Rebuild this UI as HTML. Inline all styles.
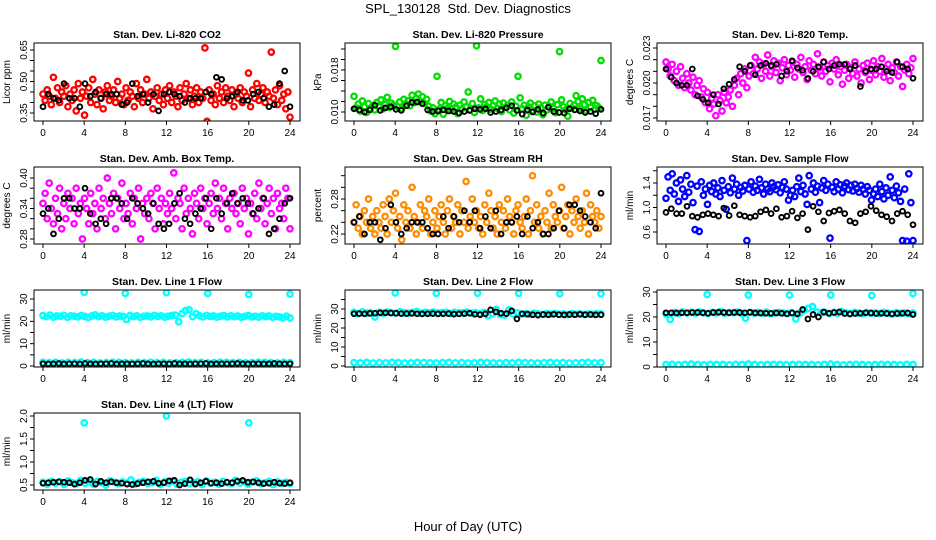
<!DOCTYPE html>
<html><head><meta charset="utf-8"><title>SPL_130128 Std. Dev. Diagnostics</title>
<style>
html,body{margin:0;padding:0;background:#fff;}
svg{display:block;font-family:"Liberation Sans",Arial,sans-serif;}
</style></head>
<body>
<svg id="chart" width="936" height="540" viewBox="0 0 936 540">
<rect x="0" y="0" width="936" height="540" fill="#fff"/>
<text x="468" y="13" text-anchor="middle" font-size="13">SPL_130128&#160; Std. Dev. Diagnostics</text>
<text x="468" y="531" text-anchor="middle" font-size="13">Hour of Day (UTC)</text>
</svg>
<script>
// ---- data ----
const xTicks = [0,4,8,12,16,20,24];

const co2Main = [0.44,0.41,0.46,0.43,0.39,0.52,0.42,0.47,0.40,0.45,0.43,0.48,0.38,0.44,0.41,0.46,0.36,0.49,0.42,0.45,0.34,0.43,0.47,0.40,0.51,0.44,0.39,0.46,0.42,0.37,0.45,0.48,0.41,0.43,0.46,0.40,0.50,0.42,0.44,0.39,0.47,0.41,0.45,0.43,0.38,0.49,0.42,0.46,0.40,0.44,0.51,0.42,0.45,0.37,0.43,0.47,0.41,0.44,0.39,0.46,0.42,0.48,0.40,0.45,0.43,0.38,0.47,0.41,0.44,0.49,0.42,0.46,0.39,0.43,0.47,0.40,0.45,0.42,0.66,0.31,0.46,0.41,0.44,0.39,0.48,0.42,0.45,0.40,0.47,0.43,0.41,0.46,0.38,0.44,0.42,0.47,0.40,0.45,0.43,0.54,0.38,0.46,0.42,0.49,0.41,0.44,0.47,0.40,0.45,0.43,0.64,0.42,0.46,0.39,0.48,0.41,0.44,0.37,0.45,0.33];
const co2Black = [0.38,0.44,0.42,0.41,0.49,0.42,0.42,0.38,0.49,0.43,0.45,0.42,0.44,0.44,0.44,0.39,0.40,0.49,0.43,0.44,0.40,0.44,0.36,0.44,0.45,0.44,0.43,0.40,0.42,0.42,0.42,0.45,0.44,0.52,0.51,0.42,0.43,0.45,0.41,0.41,0.44,0.45,0.42,0.38,0.39,0.49,0.55,0.38];

const presMain = [0.0130,0.0108,0.0115,0.0102,0.0121,0.0110,0.0099,0.0116,0.0107,0.0112,0.0104,0.0118,0.0111,0.0123,0.0106,0.0114,0.0128,0.0109,0.0117,0.0113,0.0225,0.0110,0.0119,0.0106,0.0124,0.0115,0.0121,0.0112,0.0132,0.0118,0.0126,0.0134,0.0120,0.0129,0.0116,0.0124,0.0111,0.0102,0.0108,0.0097,0.0168,0.0105,0.0118,0.0096,0.0112,0.0107,0.0120,0.0103,0.0115,0.0109,0.0097,0.0113,0.0106,0.0119,0.0110,0.0138,0.0104,0.0116,0.0099,0.0226,0.0108,0.0125,0.0103,0.0114,0.0110,0.0118,0.0105,0.0112,0.0121,0.0107,0.0115,0.0101,0.0117,0.0109,0.0113,0.0104,0.0119,0.0098,0.0111,0.0168,0.0127,0.0106,0.0113,0.0094,0.0110,0.0117,0.0103,0.0112,0.0100,0.0115,0.0108,0.0095,0.0113,0.0104,0.0111,0.0119,0.0107,0.0099,0.0114,0.0215,0.0123,0.0110,0.0104,0.0092,0.0116,0.0108,0.0113,0.0131,0.0120,0.0106,0.0125,0.0114,0.0102,0.0118,0.0109,0.0122,0.0105,0.0112,0.0108,0.0198];
const presBlack = [0.0106,0.0104,0.0100,0.0104,0.0113,0.0103,0.0108,0.0110,0.0105,0.0103,0.0112,0.0118,0.0119,0.0116,0.0104,0.0101,0.0102,0.0104,0.0102,0.0101,0.0098,0.0101,0.0103,0.0106,0.0105,0.0106,0.0099,0.0101,0.0104,0.0108,0.0112,0.0103,0.0096,0.0104,0.0100,0.0105,0.0098,0.0109,0.0101,0.0099,0.0098,0.0106,0.0104,0.0102,0.0099,0.0101,0.0097,0.0105];

const tempMain = [0.0218,0.0212,0.0206,0.0216,0.0202,0.0210,0.0198,0.0214,0.0204,0.0196,0.0208,0.0200,0.0194,0.0205,0.0190,0.0198,0.0202,0.0188,0.0195,0.0183,0.0192,0.0178,0.0187,0.0182,0.0172,0.0190,0.0185,0.0176,0.0192,0.0183,0.0188,0.0194,0.0180,0.0198,0.0204,0.0190,0.0208,0.0200,0.0212,0.0196,0.0206,0.0215,0.0208,0.0222,0.0212,0.0218,0.0204,0.0216,0.0210,0.0224,0.0206,0.0214,0.0219,0.0209,0.0217,0.0202,0.0213,0.0220,0.0207,0.0215,0.0211,0.0218,0.0205,0.0216,0.0212,0.0222,0.0209,0.0214,0.0203,0.0219,0.0211,0.0216,0.0208,0.0225,0.0213,0.0206,0.0218,0.0210,0.0215,0.0201,0.0217,0.0212,0.0220,0.0207,0.0214,0.0199,0.0211,0.0216,0.0204,0.0213,0.0208,0.0218,0.0206,0.0212,0.0200,0.0215,0.0209,0.0217,0.0203,0.0211,0.0219,0.0207,0.0214,0.0210,0.0221,0.0205,0.0212,0.0216,0.0202,0.0213,0.0209,0.0218,0.0206,0.0214,0.0197,0.0211,0.0216,0.0208,0.0213,0.0221];
const tempBlack = [0.0212,0.0205,0.0200,0.0198,0.0198,0.0212,0.0189,0.0186,0.0183,0.0190,0.0182,0.0195,0.0199,0.0203,0.0214,0.0210,0.0215,0.0207,0.0215,0.0217,0.0215,0.0216,0.0206,0.0210,0.0219,0.0213,0.0211,0.0204,0.0210,0.0214,0.0218,0.0212,0.0215,0.0216,0.0216,0.0212,0.0215,0.0197,0.0210,0.0212,0.0212,0.0214,0.0210,0.0209,0.0218,0.0214,0.0212,0.0204];

const boxMain = [0.35,0.37,0.32,0.39,0.34,0.31,0.36,0.33,0.38,0.30,0.35,0.32,0.37,0.34,0.36,0.31,0.38,0.33,0.35,0.28,0.36,0.34,0.31,0.37,0.33,0.35,0.30,0.38,0.34,0.36,0.32,0.40,0.35,0.33,0.37,0.30,0.36,0.34,0.39,0.32,0.35,0.33,0.37,0.31,0.36,0.34,0.38,0.28,0.35,0.33,0.36,0.32,0.37,0.35,0.30,0.38,0.34,0.36,0.31,0.35,0.33,0.37,0.34,0.41,0.32,0.36,0.35,0.30,0.38,0.33,0.36,0.34,0.29,0.37,0.35,0.32,0.38,0.34,0.36,0.31,0.35,0.37,0.33,0.39,0.34,0.36,0.32,0.38,0.35,0.30,0.36,0.34,0.37,0.33,0.35,0.31,0.38,0.34,0.36,0.29,0.35,0.33,0.37,0.32,0.39,0.34,0.36,0.31,0.35,0.38,0.33,0.36,0.30,0.37,0.34,0.35,0.32,0.38,0.36,0.30];
const boxBlack = [0.33,0.34,0.29,0.32,0.36,0.36,0.34,0.34,0.38,0.33,0.31,0.32,0.31,0.36,0.36,0.35,0.32,0.36,0.35,0.34,0.33,0.35,0.31,0.30,0.31,0.35,0.37,0.32,0.31,0.33,0.34,0.36,0.30,0.36,0.33,0.35,0.37,0.35,0.36,0.35,0.33,0.34,0.36,0.29,0.30,0.32,0.35,0.36];

const rhMain = [0.24,0.27,0.23,0.25,0.22,0.26,0.24,0.28,0.23,0.25,0.22,0.26,0.24,0.23,0.27,0.25,0.22,0.28,0.24,0.26,0.29,0.23,0.25,0.21,0.27,0.24,0.26,0.23,0.30,0.25,0.22,0.24,0.27,0.23,0.26,0.25,0.28,0.22,0.24,0.26,0.23,0.25,0.27,0.24,0.22,0.26,0.28,0.23,0.25,0.24,0.27,0.22,0.26,0.24,0.31,0.23,0.25,0.28,0.24,0.26,0.23,0.25,0.22,0.27,0.24,0.29,0.26,0.23,0.25,0.22,0.27,0.24,0.26,0.23,0.28,0.25,0.24,0.22,0.26,0.27,0.24,0.23,0.25,0.28,0.22,0.26,0.32,0.24,0.27,0.23,0.25,0.22,0.26,0.24,0.29,0.23,0.27,0.25,0.24,0.26,0.30,0.23,0.25,0.27,0.22,0.26,0.24,0.28,0.25,0.23,0.26,0.24,0.29,0.22,0.27,0.25,0.24,0.26,0.23,0.25];
const rhBlack = [0.24,0.25,0.22,0.24,0.24,0.21,0.23,0.27,0.24,0.22,0.23,0.24,0.24,0.24,0.23,0.22,0.22,0.25,0.23,0.25,0.24,0.26,0.24,0.26,0.23,0.25,0.23,0.26,0.22,0.24,0.24,0.25,0.22,0.25,0.23,0.24,0.22,0.22,0.23,0.26,0.23,0.27,0.27,0.26,0.25,0.24,0.23,0.29];

const flowMain = [1.15,1.50,1.28,1.55,1.22,1.40,1.10,1.45,1.30,1.18,1.52,1.25,1.38,1.08,0.64,1.35,0.61,1.42,1.20,1.30,1.05,1.36,1.26,1.40,1.22,1.32,1.18,1.44,1.28,0.97,1.34,1.24,1.48,1.30,1.38,1.20,1.33,1.27,1.36,0.46,1.30,1.42,1.25,1.35,1.28,1.46,1.32,1.22,1.38,1.30,1.26,1.40,1.34,1.29,1.37,1.24,1.33,1.42,1.30,1.12,1.20,1.28,1.18,1.34,1.48,1.26,1.36,1.22,1.05,1.52,1.30,1.40,1.25,1.35,1.08,1.32,1.44,1.28,1.38,0.50,1.33,1.26,1.42,1.30,1.37,1.24,1.35,1.40,1.29,1.36,1.27,1.38,1.31,1.25,1.36,1.30,1.22,1.34,1.28,1.12,1.22,1.30,1.18,1.38,1.26,1.14,1.32,1.20,1.50,1.28,1.16,1.35,1.24,1.10,0.46,1.30,0.45,1.55,1.08,0.46];
const flowBlack = [0.92,0.98,0.90,0.90,1.02,0.86,0.84,0.88,0.90,0.88,0.86,0.99,0.87,1.03,0.88,0.86,0.84,0.86,0.93,0.96,0.90,0.98,0.84,0.86,0.94,0.83,0.90,0.64,1.02,0.93,0.78,0.91,0.94,0.96,0.90,0.78,0.75,0.90,0.93,1.02,0.95,0.88,0.85,0.78,0.90,0.94,0.88,0.72];

const line1Main = [22.6,22.1,22.8,21.9,22.4,22.2,22.7,21.8,22.5,22.3,22.0,22.6,22.2,21.7,22.4,22.9,22.1,22.5,21.9,22.3,22.7,22.0,22.4,22.2,20.8,22.6,22.1,22.5,21.8,22.3,22.4,22.0,22.7,22.2,22.5,21.9,22.3,22.6,22.8,19.8,23.5,24.8,25.2,22.1,23.4,22.5,22.0,22.7,22.2,22.4,21.9,22.3,22.6,22.0,22.5,22.1,22.4,21.8,22.2,22.6,22.0,22.3,21.9,22.5,22.1,22.4,21.8,22.2,22.0,21.6,22.3,21.5];
const line1Low = [1.6,1.5,1.7,1.4,1.6,1.5,1.8,1.5,1.6,1.4,1.5,1.7,1.6,1.5,1.4,1.6,1.5,1.7,1.5,1.6,1.4,1.5,1.6,1.8,1.5,1.6,1.4,1.5,1.7,1.6,1.5,1.6,1.4,1.5,1.7,1.6,1.5,1.4,1.6,1.5];
const line1Black = [1.0,0.9,1.0,1.1,0.9,1.0,1.0,0.9,1.1,1.0,0.9,1.0,1.0,1.1,0.9,1.0,1.0,0.9,1.0,1.1,1.0,0.9,1.0,1.0,0.9,1.1,1.0,1.0,0.9,1.0,1.0,1.1,0.9,1.0,1.0,0.9,1.0,1.1,1.0,0.9,1.0,1.0,0.9,1.0,1.1,1.0,0.9,1.0];
const line1Spike = [33.0,32.5,32.8,32.5,32.0,32.2];

const line2Main = [28.2,27.6,28.5,27.9,28.1,25.8,28.3,27.7,28.4,28.0,27.8,28.6,28.1,27.9,28.3,28.7,27.8,28.2,28.0,28.4,27.9,28.1,28.3,27.7,28.2,27.9,28.0,28.4,27.8,28.1,27.6,28.2,26.5,27.5,29.8,27.0,26.8,29.5,27.4,28.0,27.3,27.6,27.2,27.8,27.4,27.1,27.6,27.3,27.7,27.2,27.5,27.0,27.6,27.3,27.4,27.1,27.5,27.2,27.6,27.3];
const line2Low = [1.8,1.7,1.9,1.6,1.8,1.7,1.9,1.8,1.6,1.7,1.9,1.8,1.7,1.6,1.8,1.9,1.7,1.8,1.6,1.7,1.9,1.8,1.7,1.6,1.8,1.7,1.9,1.8,1.7,1.6,1.8,1.9,1.7,1.8,1.6,1.7,1.8,1.9,1.7,1.8];
const line2Black = [27.5,27.6,27.5,27.7,27.8,28.0,28.0,27.9,27.8,27.6,27.6,27.7,27.5,27.4,27.5,27.6,27.4,27.5,27.6,27.3,27.4,27.6,27.8,27.2,27.0,27.4,29.5,28.5,27.8,27.6,29.0,24.8,27.5,27.3,27.0,26.8,27.1,27.0,27.2,27.0,26.9,27.1,27.0,27.2,27.0,27.1,26.9,27.0];
const line2Spike = [38.5,38.2,38.3,38.2,38.0,38.0];

const line3Main = [21.2,19.0,21.8,21.4,22.0,21.6,21.9,21.5,22.1,21.7,21.4,21.9,21.6,22.2,21.5,21.8,21.7,22.0,21.4,19.5,21.9,21.6,21.8,21.5,22.0,21.3,21.7,21.9,21.6,21.4,21.8,19.2,21.5,22.8,23.5,24.2,22.0,21.6,21.9,21.4,21.8,21.5,22.2,21.7,21.4,21.9,21.6,21.3,21.8,21.5,21.7,21.4,21.9,21.6,21.2,21.8,21.5,21.7,21.3,21.6];
const line3Low = [1.0,1.1,0.9,1.0,1.2,1.0,0.9,1.1,1.0,1.0,0.9,1.1,1.0,1.2,1.0,0.9,1.0,1.1,1.0,0.9,1.0,1.1,1.0,1.0,0.9,1.1,1.2,1.0,0.9,1.0,1.1,1.0,0.9,1.0,1.1,1.0,1.0,0.9,1.1,1.0];
const line3Black = [21.7,21.7,21.6,21.7,21.7,21.8,21.8,21.7,21.5,21.8,21.9,21.8,21.7,21.8,21.8,21.7,21.9,21.6,21.6,21.5,21.5,21.6,21.5,21.3,21.6,21.3,23.0,19.2,21.0,20.0,22.0,21.5,21.8,22.0,21.4,21.2,21.4,21.5,21.7,21.6,21.4,21.5,21.4,21.3,21.4,21.5,21.6,21.0];
const line3Spike = [29.0,28.8,28.8,28.8,28.6,29.4];

const line4Main = [0.56,0.52,0.58,0.54,0.57,0.51,0.59,0.55,0.53,0.60,0.54,0.57,0.52,0.58,0.55,0.50,0.59,0.56,0.53,0.57,0.54,0.61,0.52,0.56,0.58,0.53,0.55,0.60,0.51,0.57,0.54,0.59,0.52,0.56,0.58,0.53,0.55,0.57,0.51,0.59,0.54,0.56,0.52,0.58,0.55,0.53,0.60,0.54,0.57,0.52,0.56,0.59,0.53,0.55,0.58,0.51,0.57,0.54,0.56,0.53];
const line4Black = [0.54,0.55,0.56,0.57,0.56,0.55,0.52,0.55,0.60,0.62,0.52,0.58,0.55,0.57,0.55,0.54,0.52,0.51,0.53,0.55,0.57,0.58,0.54,0.55,0.59,0.60,0.50,0.53,0.61,0.52,0.55,0.58,0.54,0.55,0.53,0.56,0.55,0.58,0.60,0.56,0.57,0.55,0.53,0.54,0.56,0.54,0.53,0.55];
const spikeHours = [4,8,12,16,20,24];
const line4SpikeHours = [4,12,20];
const line4Spike = [1.85,2.0,1.85];

// tick arrays
const co2Ticks = [0.35,0.40,0.45,0.50,0.55,0.60,0.65];
const co2Labels = ["0.35","","","0.50","","","0.65"];
const presTicks = [0.010,0.012,0.014,0.016,0.018,0.020,0.022];
const presLabels = ["0.010","","","","0.018","",""];
const tempTicks = [0.017,0.018,0.019,0.020,0.021,0.022,0.023];
const tempLabels = ["0.017","","","0.020","","","0.023"];
const boxTicks = [0.28,0.30,0.32,0.34,0.36,0.38,0.40];
const boxLabels = ["0.28","","","0.34","","","0.40"];
const rhTicks = [0.22,0.24,0.26,0.28,0.30,0.32];
const rhLabels = ["0.22","","","0.28","",""];
const flowTicks = [0.6,0.8,1.0,1.2,1.4,1.6];
const flowLabels = ["0.6","","1.0","","1.4",""];
const l1Ticks = [0,5,10,15,20,25,30];
const l1Labels = ["0","","10","","20","","30"];
const l2Ticks = [0,5,10,15,20,25,30,35];
const l2Labels = ["0","","10","","20","","30",""];
const l3Ticks = [0,5,10,15,20,25,30];
const l3Labels = ["0","","10","","20","","30"];
const l4Ticks = [0.5,0.75,1.0,1.25,1.5,1.75,2.0];
const l4Labels = ["0.5","","1.0","","1.5","","2.0"];

// ---- layout ----
const NS = "http://www.w3.org/2000/svg";
const svg = document.getElementById('chart');
const colLeft = [34, 345, 657];
const rowTop = [43, 167, 290, 413];
const rowBot = [121, 244, 367, 490];
const BOXW = 266;

function mk(tag, attrs, parent) {
  const e = document.createElementNS(NS, tag);
  for (const k in attrs) e.setAttribute(k, attrs[k]);
  (parent || svg).appendChild(e);
  return e;
}
function evenHours(n) { const h = []; for (let i = 0; i < n; i++) h.push(i * 24 / (n - 1)); return h; }

const panels = [
  {id:'co2', title:'Stan. Dev. Li-820 CO2', ylab:'Licor ppm', c:0, r:0, v0:0.35, p0:113, v1:0.65, p1:50, ticks:co2Ticks, labels:co2Labels,
    series:[{vals:co2Main, color:'#ff0000', name:'co2-main'},{vals:co2Black, color:'#000', name:'co2-black'}]},
  {id:'pressure', title:'Stan. Dev. Li-820 Pressure', ylab:'kPa', c:1, r:0, v0:0.010, p0:112, v1:0.018, p1:70, ticks:presTicks, labels:presLabels,
    series:[{vals:presMain, color:'#00dd00', name:'pressure-main'},{vals:presBlack, color:'#000', name:'pressure-black'}]},
  {id:'temp', title:'Stan. Dev. Li-820 Temp.', ylab:'degrees C', c:2, r:0, v0:0.017, p0:118, v1:0.023, p1:48, ticks:tempTicks, labels:tempLabels,
    series:[{vals:tempMain, color:'#ff00ff', name:'temp-main'},{vals:tempBlack, color:'#000', name:'temp-black'}]},
  {id:'boxtemp', title:'Stan. Dev. Amb. Box Temp.', ylab:'degrees C', c:0, r:1, v0:0.28, p0:239, v1:0.40, p1:178, ticks:boxTicks, labels:boxLabels,
    series:[{vals:boxMain, color:'#ff00ff', name:'boxtemp-main'},{vals:boxBlack, color:'#000', name:'boxtemp-black'}]},
  {id:'rh', title:'Stan. Dev. Gas Stream RH', ylab:'percent', c:1, r:1, v0:0.22, p0:234, v1:0.28, p1:199, ticks:rhTicks, labels:rhLabels,
    series:[{vals:rhMain, color:'#ff8c00', name:'rh-main'},{vals:rhBlack, color:'#000', name:'rh-black'}]},
  {id:'sampleflow', title:'Stan. Dev. Sample Flow', ylab:'ml/min', c:2, r:1, v0:0.6, p0:232, v1:1.4, p1:183, ticks:flowTicks, labels:flowLabels,
    series:[{vals:flowMain, color:'#0000ff', name:'sampleflow-main'},{vals:flowBlack, color:'#000', name:'sampleflow-black'}]},
  {id:'line1', title:'Stan. Dev. Line 1 Flow', ylab:'ml/min', c:0, r:2, v0:0, p0:366, v1:30, p1:299, ticks:l1Ticks, labels:l1Labels,
    series:[{vals:line1Main, color:'#00ffff', name:'line1-main'},{vals:line1Low, color:'#00ffff', name:'line1-low'},{vals:line1Spike, hours:spikeHours, color:'#00ffff', name:'line1-spike'},{vals:line1Black, color:'#000', name:'line1-black'}]},
  {id:'line2', title:'Stan. Dev. Line 2 Flow', ylab:'ml/min', c:1, r:2, v0:0, p0:366, v1:30, p1:309, ticks:l2Ticks, labels:l2Labels,
    series:[{vals:line2Main, color:'#00ffff', name:'line2-main'},{vals:line2Low, color:'#00ffff', name:'line2-low'},{vals:line2Spike, hours:spikeHours, color:'#00ffff', name:'line2-spike'},{vals:line2Black, color:'#000', name:'line2-black'}]},
  {id:'line3', title:'Stan. Dev. Line 3 Flow', ylab:'ml/min', c:2, r:2, v0:0, p0:367, v1:30, p1:292, ticks:l3Ticks, labels:l3Labels,
    series:[{vals:line3Main, color:'#00ffff', name:'line3-main'},{vals:line3Low, color:'#00ffff', name:'line3-low'},{vals:line3Spike, hours:spikeHours, color:'#00ffff', name:'line3-spike'},{vals:line3Black, color:'#000', name:'line3-black'}]},
  {id:'line4', title:'Stan. Dev. Line 4 (LT) Flow', ylab:'ml/min', c:0, r:3, v0:0.5, p0:485, v1:2.0, p1:416, ticks:l4Ticks, labels:l4Labels,
    series:[{vals:line4Main, color:'#00ffff', name:'line4-main'},{vals:line4Spike, hours:line4SpikeHours, color:'#00ffff', name:'line4-spike'},{vals:line4Black, color:'#000', name:'line4-black'}]}
];

panels.forEach(p => {
  const L = colLeft[p.c], T = rowTop[p.r], B = rowBot[p.r], R = L + BOXW;
  const xs = h => L + 9 + h * (247 / 24);
  const ys = v => p.p0 + (v - p.v0) * (p.p1 - p.p0) / (p.v1 - p.v0);
  const g = mk('g', {});
  
  

  const cp = mk('clipPath', {id: 'clip-' + p.id}, g);
  mk('rect', {x: L, y: T, width: BOXW, height: B - T}, cp);

  const title = mk('text', {x: (L + R) / 2, y: T - 5, 'text-anchor': 'middle', 'font-size': 10.5, 'font-weight': 'bold'}, g);
  title.textContent = p.title;
  
  

  const yl = mk('text', {x: 0, y: 0, 'text-anchor': 'middle', 'font-size': 10, transform: 'translate(' + (L - 24) + ',' + ((T + B) / 2) + ') rotate(-90)'}, g);
  yl.textContent = p.ylab;
  
  

  // points
  const pts = mk('g', {'clip-path': 'url(#clip-' + p.id + ')'}, g);
  
  
  p.series.forEach(s => {
    const hrs = s.hours || evenHours(s.vals.length);
    const isBlack = s.color === '#000';
    s.vals.forEach((v, i) => {
      const c = mk('circle', {cx: xs(hrs[i]).toFixed(1), cy: ys(v).toFixed(1), r: isBlack ? 2.4 : 2.7, fill: 'none', stroke: s.color, 'stroke-width': isBlack ? 1.9 : 2.3}, pts);
      
      
    });
  });

  // box
  const box = mk('rect', {x: L, y: T, width: BOXW, height: B - T, fill: 'none', stroke: '#000', 'stroke-width': 1}, g);
  
  

  // x axis
  const xa = mk('g', {}, g);
  
  
  mk('line', {x1: xs(0), x2: xs(24), y1: B, y2: B, stroke: '#000'}, xa);
  xTicks.forEach(h => {
    mk('line', {x1: xs(h), x2: xs(h), y1: B, y2: B + 4, stroke: '#000'}, xa);
    const t = mk('text', {x: xs(h), y: B + 15, 'text-anchor': 'middle', 'font-size': 10}, xa);
    t.textContent = String(h);
    
    
  });

  // y axis
  const ya = mk('g', {}, g);
  
  
  const y0 = ys(p.ticks[0]), y1 = ys(p.ticks[p.ticks.length - 1]);
  mk('line', {x1: L, x2: L, y1: y0, y2: y1, stroke: '#000'}, ya);
  p.ticks.forEach((v, i) => {
    const y = ys(v);
    mk('line', {x1: L - 4, x2: L, y1: y, y2: y, stroke: '#000'}, ya);
    if (p.labels[i]) {
      const t = mk('text', {x: 0, y: 0, 'text-anchor': 'middle', 'font-size': 10, transform: 'translate(' + (L - 7) + ',' + y + ') rotate(-90)'}, ya);
      t.textContent = p.labels[i];
      
      
    }
  });
});
</script>
</body></html>
